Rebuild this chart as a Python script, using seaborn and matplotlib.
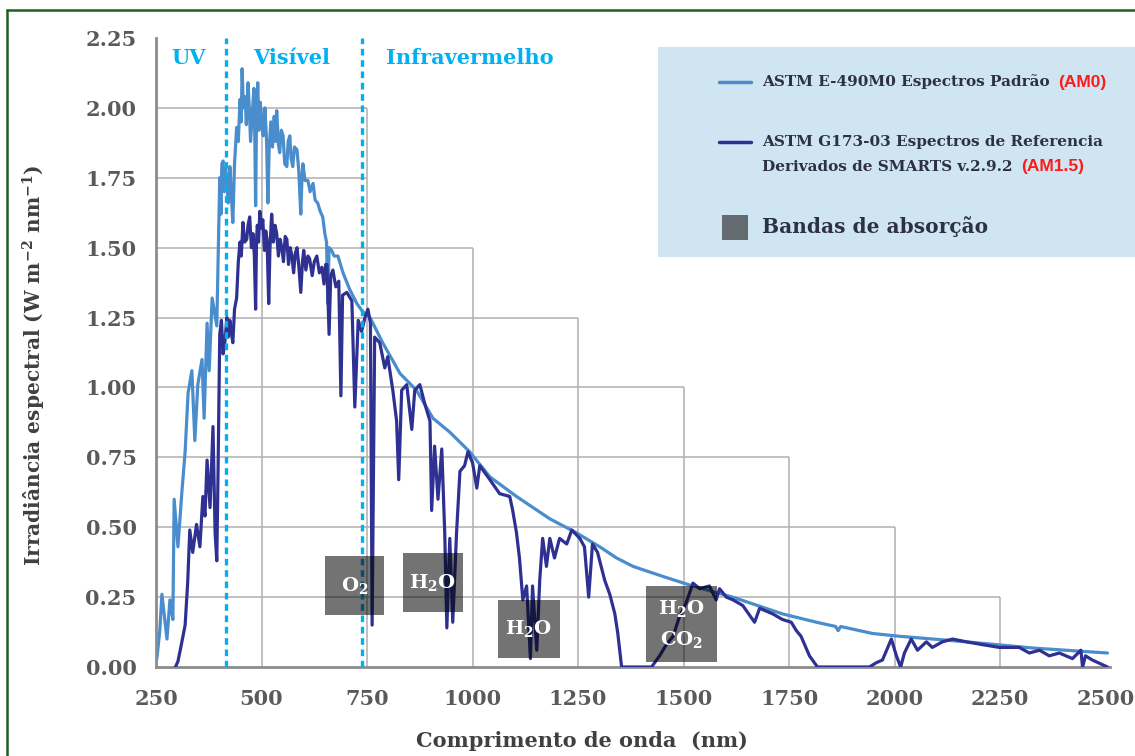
import numpy as np
import pandas as pd
import matplotlib.pyplot as plt
import seaborn as sns
from matplotlib.patches import Rectangle
from matplotlib.lines import Line2D

sns.set_style('white')
plt.rcParams['font.family'] = ['DejaVu Serif']
plt.rcParams['font.weight'] = 'bold'
plt.rcParams['mathtext.fontset'] = 'dejavuserif'
plt.rcParams['mathtext.default'] = 'bf'

# AM0 spectrum (ASTM E-490)
am0_nm = [252, 259, 264, 270, 276, 283, 290, 293, 302, 311, 319, 326, 335, 342, 349,
          359, 364, 371, 376, 383, 394, 401, 404, 406, 409, 412, 415, 418, 421, 425,
          428, 432, 436, 441, 445, 449, 452, 454, 457, 461, 464, 468, 471, 474, 478,
          482, 484, 486, 488, 491, 494, 497, 500, 504, 508, 512, 515, 518, 522, 526,
          530, 533, 536, 540, 543, 547, 551, 555, 560, 563, 567, 570, 574, 578, 584,
          588, 593, 596, 598, 603, 610, 615, 622, 627, 633, 639, 645, 650, 654, 657,
          660, 666, 672, 681, 693, 709, 726, 740, 757, 787, 828, 867, 906, 946, 993,
          1041, 1104, 1183, 1246, 1301, 1341, 1380, 1419, 1459, 1521, 1616, 1734, 1815, 1860, 1866,
          1872, 1947, 2011, 2170, 2326, 2504]
am0_val = [0.03, 0.13, 0.26, 0.18, 0.10, 0.24, 0.17, 0.60, 0.43, 0.62, 0.77, 0.98, 1.06, 0.81, 1.01,
           1.10, 0.89, 1.23, 1.06, 1.32, 1.22, 1.75, 1.62, 1.80, 1.81, 1.70, 1.78, 1.74, 1.66, 1.79,
           1.70, 1.59, 1.80, 1.93, 1.88, 2.03, 1.95, 2.14, 2.00, 2.04, 1.94, 2.09, 2.00, 1.88, 1.98,
           2.07, 1.90, 1.65, 1.95, 2.09, 1.92, 2.02, 1.96, 1.90, 2.00, 1.88, 1.66, 1.85, 1.95, 1.86,
           1.97, 1.88, 1.99, 1.87, 1.84, 1.92, 1.90, 1.80, 1.79, 1.88, 1.90, 1.82, 1.79, 1.86, 1.85,
           1.78, 1.62, 1.76, 1.80, 1.74, 1.74, 1.70, 1.73, 1.67, 1.66, 1.63, 1.61, 1.55, 1.52, 1.30,
           1.50, 1.49, 1.47, 1.47, 1.41, 1.35, 1.30, 1.27, 1.25, 1.16, 1.05, 0.99, 0.89, 0.84, 0.77,
           0.68, 0.61, 0.53, 0.48, 0.43, 0.39, 0.36, 0.34, 0.32, 0.29, 0.25, 0.19, 0.16, 0.145, 0.13,
           0.145, 0.12, 0.11, 0.09, 0.068, 0.05]

# AM1.5 spectrum (ASTM G173-03)
am15_nm = [296, 302, 310, 319, 325, 330, 337, 346, 354, 361, 366, 371, 378, 385, 390,
           394, 397, 401, 405, 409, 413, 418, 421, 425, 428, 432, 436, 441, 445, 449,
           452, 456, 460, 465, 468, 472, 476, 480, 483, 486, 488, 490, 493, 496, 500,
           503, 507, 510, 513, 517, 520, 524, 528, 532, 536, 540, 544, 548, 552, 556,
           560, 564, 568, 572, 576, 580, 584, 588, 593, 597, 600, 605, 610, 614, 620,
           625, 631, 637, 643, 648, 652, 655, 660, 664, 669, 676, 683, 688, 692, 702,
           714, 721, 729, 737, 745, 752, 758, 762, 768, 780, 792, 799, 811, 820, 825,
           832, 844, 856, 863, 875, 887, 899, 903, 910, 918, 927, 934, 939, 946, 953,
           962, 970, 981, 989, 1000, 1010, 1017, 1041, 1064, 1088, 1095, 1104, 1111, 1119, 1128,
           1137, 1142, 1152, 1159, 1166, 1175, 1183, 1194, 1206, 1223, 1235, 1254, 1265, 1275, 1284,
           1296, 1313, 1325, 1337, 1344, 1353, 1412, 1424, 1443, 1459, 1475, 1490, 1506, 1522, 1538,
           1561, 1577, 1585, 1601, 1617, 1640, 1668, 1680, 1711, 1734, 1755, 1767, 1778, 1798, 1817,
           1940, 1956, 1971, 1992, 2004, 2014, 2023, 2039, 2054, 2075, 2089, 2113, 2137, 2170, 2208,
           2248, 2295, 2319, 2343, 2366, 2390, 2421, 2441, 2445, 2452, 2468, 2504]
am15_val = [0.00, 0.02, 0.08, 0.15, 0.30, 0.49, 0.41, 0.51, 0.43, 0.61, 0.54, 0.74, 0.57, 0.86, 0.48,
            0.38, 0.70, 1.19, 1.24, 1.12, 1.16, 1.25, 1.18, 1.24, 1.20, 1.16, 1.28, 1.32, 1.45, 1.52,
            1.47, 1.59, 1.52, 1.53, 1.58, 1.61, 1.50, 1.55, 1.47, 1.28, 1.52, 1.58, 1.52, 1.63, 1.57,
            1.60, 1.49, 1.56, 1.53, 1.30, 1.50, 1.62, 1.52, 1.58, 1.55, 1.47, 1.53, 1.50, 1.45, 1.54,
            1.53, 1.44, 1.50, 1.47, 1.41, 1.48, 1.50, 1.44, 1.34, 1.45, 1.49, 1.42, 1.47, 1.46, 1.40,
            1.45, 1.47, 1.41, 1.43, 1.37, 1.44, 1.44, 1.19, 1.40, 1.42, 1.36, 1.38, 0.97, 1.33, 1.34,
            1.31, 0.93, 1.24, 1.20, 1.25, 1.28, 1.23, 0.15, 1.18, 1.16, 1.07, 1.11, 0.99, 0.88, 0.67,
            0.99, 1.01, 0.85, 0.99, 1.01, 0.94, 0.88, 0.56, 0.79, 0.60, 0.78, 0.48, 0.14, 0.46, 0.16,
            0.48, 0.70, 0.72, 0.77, 0.73, 0.64, 0.72, 0.67, 0.62, 0.61, 0.56, 0.48, 0.39, 0.24, 0.29,
            0.03, 0.29, 0.06, 0.31, 0.46, 0.36, 0.46, 0.39, 0.46, 0.44, 0.49, 0.46, 0.43, 0.25, 0.44,
            0.41, 0.31, 0.26, 0.19, 0.12, 0.00, 0.00, 0.00, 0.04, 0.08, 0.11, 0.18, 0.23, 0.30, 0.28,
            0.29, 0.24, 0.28, 0.25, 0.24, 0.22, 0.16, 0.21, 0.19, 0.17, 0.16, 0.13, 0.11, 0.04, 0.00,
            0.00, 0.015, 0.025, 0.10, 0.04, 0.00, 0.05, 0.10, 0.06, 0.09, 0.07, 0.09, 0.10, 0.09, 0.08,
            0.07, 0.07, 0.05, 0.06, 0.04, 0.05, 0.03, 0.06, 0.00, 0.04, 0.025, 0.00]

# absorption bands (nm range, irradiance range, label)
band_x0 = [650, 835, 1060, 1410]
band_x1 = [790, 977, 1206, 1578]
band_y0 = [0.186, 0.197, 0.032, 0.018]
band_y1 = [0.397, 0.408, 0.240, 0.290]
band_labels = ['O$_2$', 'H$_2$O', 'H$_2$O', 'H$_2$O\nCO$_2$']

# region separators and labels
region_lines = [417, 739]
region_names = ['UV', 'Visível', 'Infravermelho']
region_x = [326, 572, 794]

x_ticks = [250, 500, 750, 1000, 1250, 1500, 1750, 2000, 2250, 2500]
y_ticks = [0.0, 0.25, 0.5, 0.75, 1.0, 1.25, 1.5, 1.75, 2.0, 2.25]

# staircase grid as in the original figure
grid_x = [500, 750, 1000, 1250, 1500, 1750, 2000, 2250]
grid_x_top = [2.0, 2.0, 1.5, 1.25, 1.0, 0.75, 0.5, 0.25]
grid_y = [0.25, 0.5, 0.75, 1.0, 1.25, 1.5, 1.75, 2.0]
grid_y_end = [2250, 2000, 1750, 1500, 1250, 1000, 750, 750]

c_am0 = '#4A8DCD'
c_am15 = '#2E3192'
c_region = '#00B0F0'
c_text = '#2D3047'

W, H = 1135, 756
fig = plt.figure(figsize=(W / 100, H / 100), dpi=100)

# legend panel behind everything
fig.add_artist(Rectangle((658 / W, 1 - 257 / H), 1 - 658 / W, 210 / H, transform=fig.transFigure,
                         facecolor='#CFE5F1', edgecolor='none', zorder=0))

ax = fig.add_axes([156 / W, 1 - 667 / H, (1110 - 156) / W, (667 - 38) / H], zorder=1)
ax.set_facecolor('none')

ax.vlines(grid_x, 0, grid_x_top, color='#B0B0B0', lw=1.1, zorder=0)
ax.hlines(grid_y, 250, grid_y_end, color='#B0B0B0', lw=1.1, zorder=0)

sns.lineplot(x=am0_nm, y=am0_val, color=c_am0, lw=2.3, sort=False, estimator=None, ax=ax, zorder=2)
sns.lineplot(x=am15_nm, y=am15_val, color=c_am15, lw=2.3, sort=False, estimator=None, ax=ax, zorder=3)

ax.vlines(region_lines, 0, 2.25, color=c_region, lw=2.4, linestyles=(0, (2, 1.4)), zorder=4)
for name, xr in zip(region_names, region_x):
    ax.text(xr, 2.18, name, color=c_region, fontsize=15, fontweight='bold',
            ha='left' if name == 'Infravermelho' else 'center', va='center')

for x0, x1, y0, y1, lab in zip(band_x0, band_x1, band_y0, band_y1, band_labels):
    ax.add_patch(Rectangle((x0, y0), x1 - x0, y1 - y0, facecolor='black', alpha=0.55,
                           edgecolor='none', zorder=5))
    ax.text((x0 + x1) / 2, (y0 + y1) / 2, lab, color='white', fontsize=14,
            ha='center', va='center', linespacing=1.6, zorder=6)

ax.set_xlim(250, 2510)
ax.set_ylim(0, 2.25)
ax.set_xticks(x_ticks)
ax.set_yticks(y_ticks)
ax.set_yticklabels([f'{v:.2f}' for v in y_ticks])
ax.tick_params(length=0, labelsize=15, labelcolor='#5A5A5A')
ax.tick_params(axis='x', pad=16)
ax.tick_params(axis='y', pad=14)
for t in ax.get_xticklabels() + ax.get_yticklabels():
    t.set_fontweight('bold')

for s in ['top', 'right']:
    ax.spines[s].set_visible(False)
for s in ['left', 'bottom']:
    ax.spines[s].set_color('#8C8C8C')
    ax.spines[s].set_linewidth(2)

ax.set_ylabel('Irradiância espectral (W m$^{-2}$ nm$^{-1}$)', fontsize=14.5,
              fontweight='bold', color='#404040')
ax.yaxis.set_label_coords((48 - 156) / 954, 0.48)
ax.set_xlabel('Comprimento de onda  (nm)', fontsize=15, fontweight='bold', color='#404040')
ax.xaxis.set_label_coords((582 - 156) / 954, -(731 - 667) / 629)

fig.add_artist(Line2D([719 / W, 751 / W], [1 - 82 / H] * 2, color=c_am0, lw=2.5))
fig.add_artist(Line2D([719 / W, 751 / W], [1 - 142 / H] * 2, color=c_am15, lw=2.5))
fig.add_artist(Rectangle((722 / W, 1 - 240 / H), 26 / W, 25 / H, transform=fig.transFigure,
                         facecolor='#636B70', edgecolor='none'))

t1 = fig.text(762 / W, 1 - 82 / H, 'ASTM E-490M0 Espectros Padrão', fontsize=11,
              fontweight='bold', color=c_text, va='center')
fig.text(762 / W, 1 - 142 / H, 'ASTM G173-03 Espectros de Referencia', fontsize=11,
         fontweight='bold', color=c_text, va='center')
t2 = fig.text(762 / W, 1 - 167 / H, 'Derivados de SMARTS v.2.9.2', fontsize=11,
              fontweight='bold', color=c_text, va='center')
fig.text(762 / W, 1 - 227 / H, 'Bandas de absorção', fontsize=14.5,
         fontweight='bold', color=c_text, va='center')
for t, lab in [(t1, '(AM0)'), (t2, '(AM1.5)')]:
    ax.annotate(lab, xy=(1, 0.5), xycoords=t, xytext=(6, 0), textcoords='offset points',
                va='center', ha='left', color='#FF1A1A', fontsize=12.5, fontweight='bold',
                family=['Liberation Sans', 'DejaVu Sans'], annotation_clip=False)

# green frame (top and left)
fig.add_artist(Line2D([7 / W, 7 / W], [0, 1 - 10 / H], color='#1E5E1E', lw=1.8))
fig.add_artist(Line2D([7 / W, 1], [1 - 10 / H] * 2, color='#1E5E1E', lw=1.8))

fig.savefig('out.png', dpi=100)
